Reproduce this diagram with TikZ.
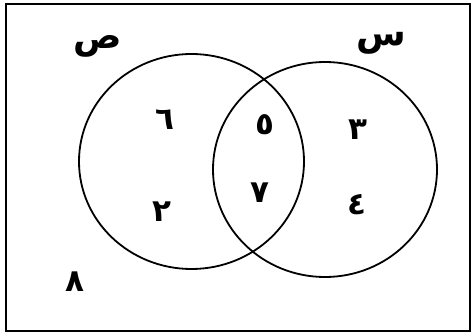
\documentclass[tikz,border=0pt]{standalone}
\usepackage{fontspec}
\newfontfamily\arabicfont[Script=Arabic]{DejaVu Sans}
\TeXXeTstate=1
\tikzset{
  frame/.style={draw=black, line width=2pt},
  setc/.style={draw=black, line width=1.8pt},
  num/.style={font=\arabicfont\bfseries\fontsize{31}{31}\selectfont, inner sep=0pt},
  lbl/.style={font=\arabicfont\bfseries\fontsize{36}{36}\selectfont, inner sep=0pt}
}
\begin{document}
\begin{tikzpicture}[x=1pt,y=1pt]
\useasboundingbox (0,0) rectangle (471,332);
\draw[frame] (6,1.5) rectangle (469.5,328);
\draw[setc] (191.5,170.5) ellipse [x radius=112.5, y radius=107.5];
\draw[setc] (325,162.5) ellipse [x radius=112, y radius=107.5];
\node[lbl] (Y) at (98,286) {\beginR ص\endR};
\node[lbl] (X) at (381,289) {\beginR س\endR};
\node[num] (n6) at (165,212) {\beginR ٦\endR};
\node[num] (n5) at (265,207) {\beginR ٥\endR};
\node[num] (n3) at (358,202) {\beginR ٣\endR};
\node[num] (n7) at (260,139) {\beginR ٧\endR};
\node[num] (n2) at (162,120) {\beginR ٢\endR};
\node[num] (n4) at (357,127) {\beginR ٤\endR};
\node[num] (n8) at (75,50) {\beginR ٨\endR};
\end{tikzpicture}
\end{document}
